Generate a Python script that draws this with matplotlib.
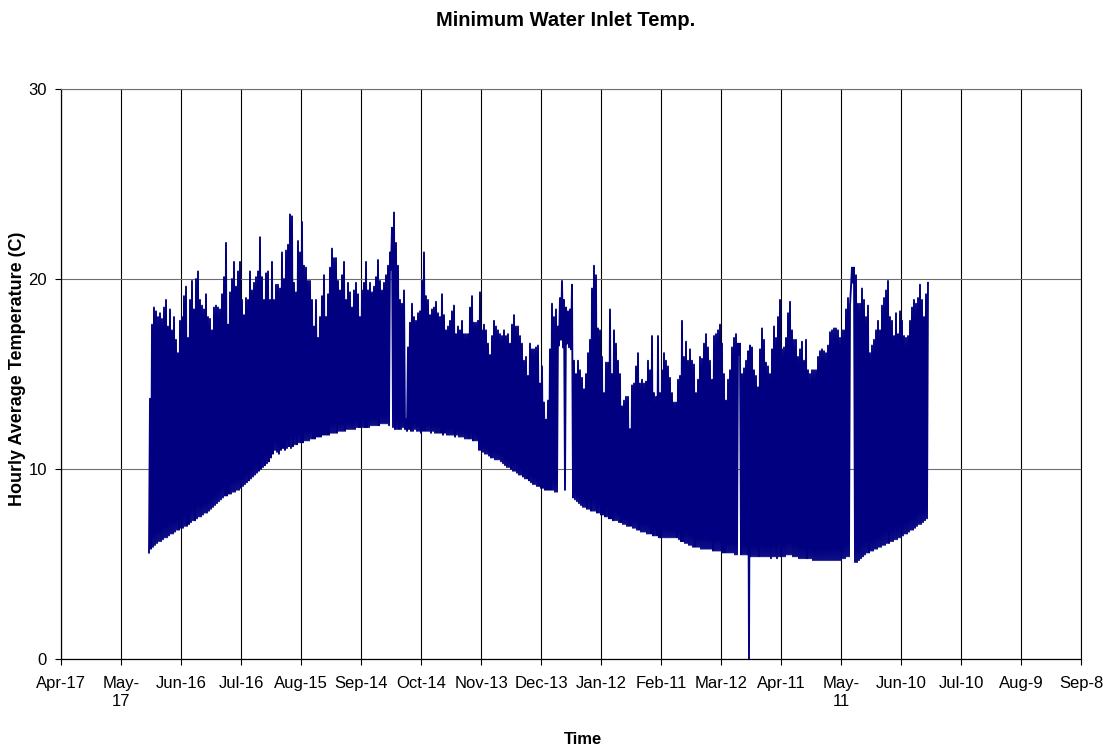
import matplotlib
matplotlib.use("Agg")
import matplotlib.pyplot as plt
import matplotlib.dates as mdates
import numpy as np

plt.rcParams['font.family'] = ['Liberation Sans', 'DejaVu Sans']

# ---------------- data ----------------
title = "Minimum Water Inlet Temp."
x_label = "Time"
y_label = "Hourly Average Temperature (C)"

tick_dates = ["2003-04-17", "2003-05-17", "2003-06-16", "2003-07-16", "2003-08-15",
              "2003-09-14", "2003-10-14", "2003-11-13", "2003-12-13", "2004-01-12",
              "2004-02-11", "2004-03-12", "2004-04-11", "2004-05-11", "2004-06-10",
              "2004-07-10", "2004-08-09", "2004-09-08"]
tick_labels = ["Apr-17", "May-\n17", "Jun-16", "Jul-16", "Aug-15", "Sep-14", "Oct-14",
               "Nov-13", "Dec-13", "Jan-12", "Feb-11", "Mar-12", "Apr-11", "May-\n11",
               "Jun-10", "Jul-10", "Aug-9", "Sep-8"]
y_ticks = [0, 10, 20, 30]

first_day = "2003-05-31"

# daily peak of the hourly series (one value per day)
daily_max = [
    13.7, 17.6, 18.5, 18.3, 18.0, 18.2, 17.9, 18.5, 18.9, 17.5,
    18.4, 17.3, 18.0, 16.8, 16.1, 17.8, 18.0, 19.1, 19.6, 16.9,
    18.9, 19.9, 18.4, 20.0, 20.4, 18.9, 18.6, 18.4, 19.2, 18.0,
    17.9, 17.3, 18.5, 18.6, 18.5, 18.4, 19.2, 20.1, 21.9, 17.6,
    19.3, 20.0, 20.9, 19.6, 20.4, 20.9, 18.9, 18.1, 19.0, 18.9,
    20.4, 19.4, 19.8, 20.1, 20.4, 22.2, 20.1, 18.9, 20.3, 20.4,
    18.9, 20.9, 18.9, 19.7, 19.7, 19.5, 21.4, 20.0, 21.5, 21.8,
    23.4, 23.3, 19.8, 19.3, 22.0, 21.4, 23.0, 20.7, 20.6, 19.9,
    19.9, 18.9, 17.5, 18.9, 16.9, 18.0, 19.1, 20.2, 18.0, 19.2,
    20.6, 21.6, 21.1, 21.1, 19.9, 19.4, 20.2, 20.9, 18.9, 19.8,
    19.3, 18.5, 19.4, 19.8, 19.2, 18.0, 19.4, 19.8, 20.9, 19.4,
    19.8, 19.3, 19.6, 20.1, 21.0, 19.9, 19.4, 19.8, 20.2, 20.7,
    21.4, 22.7, 23.5, 21.9, 20.7, 18.9, 18.7, 19.4, 12.6, 16.4,
    17.7, 18.7, 18.0, 17.8, 18.2, 18.3, 19.9, 21.4, 19.1, 18.9,
    18.1, 18.4, 18.5, 18.8, 18.2, 18.0, 19.2, 18.1, 17.3, 17.5,
    17.8, 18.3, 18.6, 17.1, 17.5, 17.3, 17.8, 17.1, 17.1, 17.1,
    18.5, 19.1, 17.7, 17.7, 17.8, 19.3, 17.3, 17.6, 17.3, 16.6,
    16.0, 17.0, 17.8, 17.5, 17.3, 17.1, 17.0, 17.3, 17.0, 17.1,
    16.6, 17.6, 18.1, 17.5, 17.5, 17.0, 16.6, 15.7, 15.9, 14.9,
    16.6, 16.3, 16.3, 16.4, 16.5, 14.5, 15.4, 13.5, 12.6, 13.6,
    16.3, 18.7, 18.0, 18.4, 17.5, 19.0, 19.9, 18.9, 18.5, 18.3,
    18.4, 19.7, 15.7, 15.0, 15.7, 15.2, 14.8, 14.2, 15.0, 16.1,
    16.8, 19.5, 20.7, 20.2, 17.4, 17.3, 15.9, 14.0, 15.6, 15.6,
    18.4, 15.0, 17.3, 16.6, 15.7, 15.0, 13.3, 13.6, 13.8, 13.8,
    12.1, 14.4, 14.5, 15.4, 16.1, 14.5, 14.7, 14.5, 14.6, 15.7,
    15.2, 17.0, 14.0, 13.8, 17.0, 14.0, 15.2, 16.1, 15.7, 15.4,
    14.8, 14.0, 13.5, 13.5, 14.7, 14.9, 17.8, 15.9, 16.7, 15.7,
    16.3, 15.7, 15.5, 14.0, 14.7, 15.9, 15.8, 16.6, 17.1, 16.4,
    15.7, 14.7, 17.0, 17.1, 17.3, 17.6, 16.6, 15.0, 13.6, 14.7,
    15.2, 16.4, 16.9, 17.1, 16.6, 16.6, 15.0, 15.3, 15.7, 16.2,
    16.5, 16.4, 15.2, 14.9, 14.3, 16.3, 17.4, 16.8, 15.6, 15.4,
    15.0, 16.3, 17.5, 16.9, 18.0, 18.9, 16.3, 16.4, 16.9, 18.2,
    18.8, 17.3, 16.8, 16.8, 15.9, 16.3, 16.7, 15.7, 16.8, 15.2,
    15.0, 15.2, 15.2, 15.2, 15.9, 16.2, 16.3, 16.2, 16.1, 16.5,
    17.2, 17.3, 17.4, 17.4, 17.3, 16.9, 17.3, 17.3, 18.4, 19.0,
    18.6, 20.6, 20.6, 20.2, 18.7, 18.7, 19.5, 18.9, 18.0, 18.6,
    16.1, 16.5, 16.8, 17.3, 17.8, 17.3, 18.6, 19.0, 19.4, 19.9,
    18.0, 17.8, 17.0, 18.2, 17.1, 18.3, 17.8, 17.0, 16.9, 17.0,
    17.8, 18.5, 18.9, 18.7, 19.0, 19.7, 18.9, 18.0, 19.2, 19.8,
]

# daily low of the hourly series (one value per day)
daily_min = [
    5.6, 5.8, 5.9, 6.0, 6.1, 6.2, 6.2, 6.3, 6.4, 6.4,
    6.5, 6.6, 6.6, 6.7, 6.8, 6.8, 6.9, 6.9, 7.0, 7.0,
    7.1, 7.2, 7.3, 7.3, 7.4, 7.5, 7.5, 7.6, 7.7, 7.7,
    7.8, 7.9, 8.0, 8.1, 8.2, 8.3, 8.4, 8.5, 8.6, 8.6,
    8.7, 8.7, 8.8, 8.8, 8.9, 8.9, 9.0, 9.1, 9.2, 9.3,
    9.4, 9.5, 9.6, 9.7, 9.8, 9.9, 10.0, 10.1, 10.2, 10.3,
    10.4, 10.6, 10.8, 11.0, 10.9, 10.8, 11.0, 11.1, 11.0, 11.1,
    11.2, 11.1, 11.2, 11.3, 11.3, 11.4, 11.4, 11.4, 11.5, 11.5,
    11.5, 11.6, 11.6, 11.6, 11.7, 11.7, 11.7, 11.8, 11.8, 11.8,
    11.8, 11.9, 11.9, 11.9, 11.9, 12.0, 12.0, 12.0, 12.0, 12.1,
    12.1, 12.1, 12.1, 12.1, 12.2, 12.2, 12.2, 12.2, 12.2, 12.2,
    12.2, 12.3, 12.3, 12.3, 12.3, 12.3, 12.4, 12.4, 12.4, 12.4,
    12.3, 20.5, 12.2, 12.1, 12.1, 12.1, 12.1, 12.2, 12.1, 12.0,
    12.1, 12.0, 12.0, 12.1, 12.0, 12.0, 11.9, 12.0, 12.0, 12.0,
    12.0, 11.9, 12.0, 11.9, 11.9, 11.9, 11.9, 11.8, 11.9, 11.8,
    11.8, 11.8, 11.8, 11.7, 11.8, 11.7, 11.7, 11.7, 11.6, 11.6,
    11.6, 11.6, 11.5, 11.5, 11.5, 11.0, 11.0, 10.9, 10.8, 10.8,
    10.7, 10.6, 10.6, 10.5, 10.5, 10.5, 10.4, 10.3, 10.2, 10.1,
    10.1, 10.0, 9.9, 9.9, 9.8, 9.7, 9.7, 9.6, 9.5, 9.5,
    9.4, 9.3, 9.2, 9.2, 9.1, 9.1, 9.0, 9.0, 8.9, 8.9,
    8.9, 8.9, 8.9, 8.8, 8.8, 16.5, 16.8, 16.4, 8.9, 16.6,
    16.4, 16.3, 8.5, 8.4, 8.3, 8.2, 8.1, 8.0, 8.0, 7.9,
    7.9, 7.8, 7.8, 7.8, 7.7, 7.7, 7.6, 7.6, 7.5, 7.5,
    7.4, 7.4, 7.3, 7.3, 7.3, 7.2, 7.2, 7.1, 7.1, 7.0,
    7.0, 7.0, 6.9, 6.9, 6.8, 6.8, 6.7, 6.7, 6.7, 6.6,
    6.6, 6.6, 6.5, 6.5, 6.5, 6.4, 6.4, 6.4, 6.4, 6.4,
    6.4, 6.4, 6.4, 6.4, 6.4, 6.3, 6.2, 6.2, 6.1, 6.1,
    6.0, 6.0, 5.9, 5.9, 5.9, 5.9, 5.8, 5.8, 5.8, 5.8,
    5.8, 5.8, 5.7, 5.7, 5.7, 5.7, 5.7, 5.6, 5.6, 5.6,
    5.6, 5.6, 5.6, 5.5, 5.5, 16.0, 5.5, 5.5, 5.5, 5.5,
    0.0, 5.4, 5.4, 5.4, 5.4, 5.4, 5.4, 5.4, 5.4, 5.4,
    5.4, 5.3, 5.4, 5.4, 5.3, 5.4, 5.4, 5.4, 5.4, 5.5,
    5.5, 5.5, 5.4, 5.4, 5.4, 5.3, 5.3, 5.3, 5.3, 5.3,
    5.3, 5.3, 5.2, 5.2, 5.2, 5.2, 5.2, 5.2, 5.2, 5.2,
    5.2, 5.2, 5.2, 5.2, 5.2, 5.2, 5.2, 5.3, 5.3, 5.4,
    5.4, 19.6, 19.8, 5.1, 5.1, 5.2, 5.3, 5.4, 5.5, 5.6,
    5.6, 5.7, 5.7, 5.8, 5.8, 5.9, 5.9, 6.0, 6.0, 6.1,
    6.1, 6.2, 6.2, 6.3, 6.3, 6.4, 6.4, 6.5, 6.6, 6.6,
    6.7, 6.8, 6.8, 6.9, 7.0, 7.1, 7.1, 7.2, 7.3, 7.4,
]

# ---------------- build the series ----------------
n_days = min(len(daily_max), len(daily_min))
base = mdates.datestr2num(first_day)
days = base + np.arange(n_days)
xs = np.empty(2 * n_days)
ys = np.empty(2 * n_days)
xs[0::2] = days
xs[1::2] = days + 0.5
ys[0::2] = np.asarray(daily_min[:n_days])
ys[1::2] = np.asarray(daily_max[:n_days])

tick_nums = [mdates.datestr2num(d) for d in tick_dates]

# ---------------- figure ----------------
W, H = 1103, 745
fig = plt.figure(figsize=(W / 100, H / 100), dpi=100)
fig.patch.set_facecolor('white')
ax = fig.add_axes([61 / W, 1 - 659 / H, 1020 / W, 570 / H])

ax.plot(xs, ys, color='#000080', lw=1.35, zorder=3, solid_joinstyle='round')

ax.set_xlim(tick_nums[0], tick_nums[-1])
ax.set_ylim(0, 30)
ax.set_xticks(tick_nums)
ax.set_xticklabels(tick_labels)
ax.set_yticks(y_ticks)
ax.set_yticklabels([str(v) for v in y_ticks])

ax.set_axisbelow(True)
ax.xaxis.grid(True, color='black', lw=0.8)
ax.yaxis.grid(True, color='#6e6e6e', lw=0.8)

for side in ['left', 'bottom']:
    ax.spines[side].set_color('black')
    ax.spines[side].set_linewidth(0.9)
ax.spines['right'].set_color('black')
ax.spines['right'].set_linewidth(0.8)
ax.spines['top'].set_color('#6e6e6e')
ax.spines['top'].set_linewidth(0.8)

ax.tick_params(axis='x', direction='out', length=4, width=0.8, pad=8.5,
               labelsize=12, colors='black')
ax.tick_params(axis='y', direction='out', length=4, width=0.8, pad=6,
               labelsize=12, colors='black')
for lab in ax.get_xticklabels():
    lab.set_linespacing(1.25)

fig.text(566 / W, 1 - 20 / H, title, ha='center', va='center',
         fontsize=14.5, fontweight='bold')
fig.text(583 / W, 1 - 739 / H, x_label, ha='center', va='center',
         fontsize=12, fontweight='bold')
fig.text(18 / W, 1 - 369 / H, y_label, ha='center', va='center',
         rotation=90, fontsize=13, fontweight='bold')

fig.savefig('out.png', dpi=100, facecolor='white')
